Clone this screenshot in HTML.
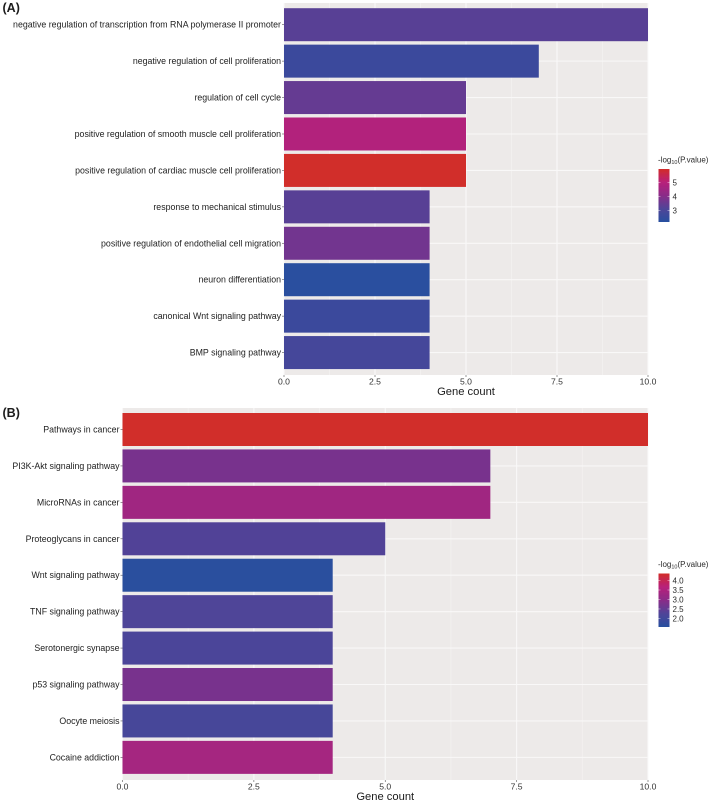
<!DOCTYPE html>
<html>
<head>
<meta charset="utf-8">
<title>Gene count charts</title>
<style>
html,body{margin:0;padding:0;background:#fff;width:709px;height:801px;overflow:hidden}
svg{display:block}
text{font-family:"Liberation Sans",Arial,sans-serif}
</style>
</head>
<body>
<svg id="chart" xmlns="http://www.w3.org/2000/svg" width="709" height="801" viewBox="0 0 709 801">
<defs><filter id="soft" x="-2%" y="-2%" width="104%" height="104%"><feGaussianBlur stdDeviation="0.35"/></filter></defs>
<g id="root" filter="url(#soft)"></g>
</svg>
<script>
// Panel A data
const categoriesA = ["negative regulation of transcription from RNA polymerase II promoter","negative regulation of cell proliferation","regulation of cell cycle","positive regulation of smooth muscle cell proliferation","positive regulation of cardiac muscle cell proliferation","response to mechanical stimulus","positive regulation of endothelial cell migration","neuron differentiation","canonical Wnt signaling pathway","BMP signaling pathway"];
const countsA = [10,7,5,5,5,4,4,4,4,4];
const pValuesA = [3.3,2.65,3.5,4.9,5.95,3.3,3.7,2.25,2.65,2.9];
const legendTicksA = [5,4,3];
// Panel B data
const categoriesB = ["Pathways in cancer","PI3K-Akt signaling pathway","MicroRNAs in cancer","Proteoglycans in cancer","Wnt signaling pathway","TNF signaling pathway","Serotonergic synapse","p53 signaling pathway","Oocyte meiosis","Cocaine addiction"];
const countsB = [10,7,7,5,4,4,4,4,4,4];
const pValuesB = [4.35,2.74,3.3,2.28,1.62,2.25,2.2,2.74,2.12,3.38];
const legendTicksB = ["4.0","3.5","3.0","2.5","2.0"];
// Shared axis data
const xTicks = ["0.0","2.5","5.0","7.5","10.0"];
const xMinorTicks = [1.25,3.75,6.25,8.75];

const NS = "http://www.w3.org/2000/svg";
const root = document.getElementById("root");
const colorStops = ["#27509f","#4f4498","#8a2c88","#b8207a","#d22d28"];

function hexToRgb(h){return [1,3,5].map(i=>parseInt(h.substr(i,2),16));}
function colorAt(t){
  t=Math.max(0,Math.min(1,t));
  const p=t*(colorStops.length-1), i=Math.min(Math.floor(p),colorStops.length-2), f=p-i;
  const a=hexToRgb(colorStops[i]), b=hexToRgb(colorStops[i+1]);
  return "rgb("+a.map((v,k)=>Math.round(v+(b[k]-v)*f)).join(",")+")";
}
function make(tag,attrs,parent){
  const el=document.createElementNS(NS,tag);
  for(const k in attrs) el.setAttribute(k,attrs[k]);
  (parent||root).appendChild(el);
  return el;
}

function drawPanel(cfg){
  const g=make("g",{});
  
  
  const xScale=v=>cfg.x0+(v/10)*(cfg.x1-cfg.x0);
  const yBand=i=>cfg.firstCenter+i*cfg.step;
  const barH=33;

  const tag=make("text",{x:cfg.tagX,y:cfg.tagY,"font-size":"12.5","font-weight":"bold",fill:"#1a1a1a"},g);
  tag.textContent=cfg.tag;
  
  

  const bg=make("rect",{x:cfg.x0,y:cfg.y0,width:cfg.x1-cfg.x0,height:cfg.y1-cfg.y0,fill:"#edeae9"},g);
  
  

  xMinorTicks.forEach(v=>{
    const l=make("line",{x1:xScale(v),x2:xScale(v),y1:cfg.y0,y2:cfg.y1,stroke:"#f3f1f0","stroke-width":"0.8"},g);
    
    
  });
  xTicks.forEach(s=>{
    const x=xScale(parseFloat(s));
    const l=make("line",{x1:x,x2:x,y1:cfg.y0,y2:cfg.y1,stroke:"#f9f8f8","stroke-width":"1.1"},g);
    
    
    const t=make("line",{x1:x,x2:x,y1:cfg.y1,y2:cfg.y1+2,stroke:"#555","stroke-width":"0.6"},g);
    
    
    const lab=make("text",{x:x,y:cfg.y1+9.3,"font-size":"8.6","text-anchor":"middle",fill:"#333"},g);
    lab.textContent=s;
    
    
  });

  cfg.categories.forEach((c,i)=>{
    const y=yBand(i);
    const gl=make("line",{x1:cfg.x0,x2:cfg.x1,y1:y,y2:y,stroke:"#f9f8f8","stroke-width":"1.1"},g);
    
    
    const tick=make("line",{x1:cfg.x0-2,x2:cfg.x0,y1:y,y2:y,stroke:"#555","stroke-width":"0.6"},g);
    
    
    const lab=make("text",{x:cfg.x0-3,y:y+3,"font-size":"8.8","text-anchor":"end",fill:"#222"},g);
    lab.textContent=c;
    
    
    const t=(cfg.pValues[i]-cfg.pMin)/(cfg.pMax-cfg.pMin);
    const bar=make("rect",{x:cfg.x0,y:y-barH/2,width:xScale(cfg.counts[i])-cfg.x0,height:barH,fill:colorAt(t)},g);
    
    
  });

  const title=make("text",{x:(cfg.x0+cfg.x1)/2,y:cfg.y1+20,"font-size":"11.2","text-anchor":"middle",fill:"#1a1a1a"},g);
  title.textContent="Gene count";
  
  

  // Legend
  const lg=make("g",{},g);
  
  
  const lt=make("text",{x:658,y:cfg.legTop-6.5,"font-size":"8",fill:"#2b2b2b"},lg);
  
  
  const s1=make("tspan",{},lt); s1.textContent="-log";
  const s2=make("tspan",{"font-size":"5.5",dy:"1.5"},lt); s2.textContent="10";
  const s3=make("tspan",{dy:"-1.5"},lt); s3.textContent="(P.value)";

  const grad=make("linearGradient",{id:cfg.gradId,x1:"0",y1:"1",x2:"0",y2:"0"},document.querySelector("#chart defs"));
  colorStops.forEach((c,i)=>make("stop",{offset:i/(colorStops.length-1),"stop-color":c},grad));
  const legH=cfg.legBottom-cfg.legTop;
  const lbar=make("rect",{x:658.5,y:cfg.legTop,width:11,height:legH,fill:"url(#"+cfg.gradId+")"},lg);
  
  
  const legY=v=>cfg.legBottom-(v-cfg.pMin)/(cfg.pMax-cfg.pMin)*legH;
  cfg.legendTicks.forEach(v=>{
    const y=legY(parseFloat(v));
    const a=make("line",{x1:658.5,x2:660.5,y1:y,y2:y,stroke:"#fff","stroke-width":"0.4"},lg);
    
    
    const b=make("line",{x1:667.5,x2:669.5,y1:y,y2:y,stroke:"#fff","stroke-width":"0.4"},lg);
    
    
    const tx=make("text",{x:672.5,y:y+2.8,"font-size":"8",fill:"#2b2b2b"},lg);
    tx.textContent=v;
    
    
  });
}

drawPanel({name:"panel-a-go-chart",tag:"(A)",tagX:2.5,tagY:12,x0:284,x1:648,y0:3,y1:375,firstCenter:24.7,step:36.43,
  categories:categoriesA,counts:countsA,pValues:pValuesA,pMin:2.2,pMax:5.97,legTop:169,legBottom:222,gradId:"gradA",legendTicks:legendTicksA});
drawPanel({name:"panel-b-kegg-chart",tag:"(B)",tagX:2.5,tagY:417,x0:122.5,x1:648,y0:408,y1:780,firstCenter:429.5,step:36.43,
  categories:categoriesB,counts:countsB,pValues:pValuesB,pMin:1.55,pMax:4.37,legTop:573.5,legBottom:627,gradId:"gradB",legendTicks:legendTicksB});
</script>
</body>
</html>
